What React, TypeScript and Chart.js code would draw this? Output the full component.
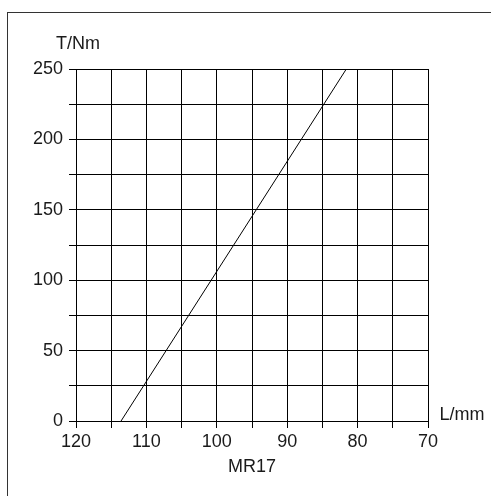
import React, { useEffect, useRef } from "react";
import { Chart, registerables } from "chart.js";

Chart.register(...registerables);

const lengthMm = [113.6, 81.6];
const torqueNm = [0, 250];
const xTitle = "MR17";
const yUnit = "T/Nm";
const xUnit = "L/mm";

const FONT = "'Liberation Sans Narrow', 'Arial Narrow', 'Liberation Sans', Arial, sans-serif";
const INK = "#1a1a1a";

export default function App() {
  const ref = useRef<HTMLCanvasElement | null>(null);
  useEffect(() => {
    if (!ref.current) return;
    const labelsPlugin = {
      id: "unitLabels",
      afterDraw(chart: any) {
        const ctx = chart.ctx;
        ctx.save();
        ctx.fillStyle = INK;
        ctx.font = `18px ${FONT}`;
        ctx.textAlign = "center";
        ctx.textBaseline = "middle";
        ctx.fillText(yUnit, 78, 44);
        ctx.fillText(xUnit, 462, 415);
        ctx.restore();
      },
    };
    const chart = new Chart(ref.current, {
      type: "line",
      data: {
        datasets: [
          {
            data: lengthMm.map((x, i) => ({ x, y: torqueNm[i] })),
            borderColor: "#000",
            borderWidth: 1,
            pointRadius: 0,
            fill: false,
            tension: 0,
          },
        ],
      },
      options: {
        animation: false,
        responsive: false,
        events: [],
        layout: { padding: { top: 69, right: 63, left: 0, bottom: 0 } },
        plugins: { legend: { display: false }, tooltip: { enabled: false } },
        scales: {
          x: {
            type: "linear",
            reverse: true,
            min: 70,
            max: 120,
            afterFit: (s: any) => {
              s.height = 75;
            },
            grid: { color: "#000", lineWidth: 1, tickLength: 7, tickColor: "#000" },
            border: { color: "#000", width: 1 },
            ticks: {
              stepSize: 5,
              autoSkip: false,
              maxRotation: 0,
              padding: 3,
              color: INK,
              font: { family: FONT, size: 18 },
              callback: (v: any) => (Number(v) % 10 === 0 ? String(v) : ""),
            },
            title: {
              display: true,
              text: xTitle,
              color: INK,
              font: { family: FONT, size: 18 },
              padding: { top: 0, bottom: 18 },
            },
          },
          y: {
            min: 0,
            max: 250,
            afterFit: (s: any) => {
              s.width = 76;
            },
            grid: { color: "#000", lineWidth: 1, tickLength: 7, tickColor: "#000" },
            border: { color: "#000", width: 1 },
            ticks: {
              stepSize: 25,
              autoSkip: false,
              padding: 6,
              color: INK,
              font: { family: FONT, size: 18 },
              callback: (v: any) => (Number(v) % 50 === 0 ? String(v) : ""),
            },
          },
        },
      },
      plugins: [labelsPlugin],
    });
    return () => chart.destroy();
  }, []);
  return (
    <div style={{ position: "fixed", left: 0, top: 0, width: 491, height: 496, background: "#fff" }}>
      <div
        style={{
          position: "absolute",
          left: 7,
          top: 12,
          right: 0,
          bottom: 0,
          borderLeft: "1px solid #333",
          borderTop: "1px solid #333",
        }}
      />
      <canvas ref={ref} width={491} height={496} style={{ position: "absolute", left: 0, top: 0, display: "block" }} />
    </div>
  );
}
